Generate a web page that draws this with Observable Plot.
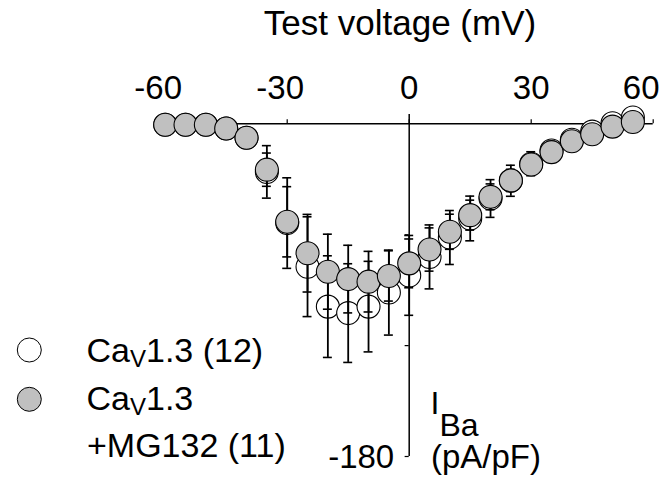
<!DOCTYPE html>
<html><head><meta charset="utf-8">
<script src="https://cdn.jsdelivr.net/npm/d3@7"></script>
<script src="https://cdn.jsdelivr.net/npm/@observablehq/plot@0.6"></script>
<style>
body{margin:0;background:#fff}
svg text{font-family:"Liberation Sans",Arial,sans-serif}
</style>
</head><body><div id="chart"></div>
<script>
// Test voltages (mV)
const voltages = [-60,-55,-50,-45,-40,-35,-30,-25,-20,-15,-10,-5,0,5,10,15,20,25,30,35,40,45,50,55];
// CaV1.3 (12) — open circles, mean and SEM (pA/pF)
const ctrlMean = [-0.5,-0.5,-0.5,-2.5,-7.5,-26,-53.7,-77.3,-98.9,-102.4,-98.9,-91.3,-82,-72,-61.5,-51.2,-40.4,-30.8,-21.6,-14.4,-8.6,-4.2,0.3,3.4];
const ctrlSem  = [0.5,0.5,0.5,1,2,14.2,24.5,27,27.5,26.7,24.5,23,21.6,17.3,14.6,12.1,10.2,8.4,6.5,5,4,3,2,1.5];
// CaV1.3 +MG132 (11) — grey circles
const mgMean = [-0.5,-0.5,-0.5,-2.5,-7.5,-24.8,-53,-70,-80,-84,-85.4,-82.3,-75.5,-68,-58.4,-49.4,-39.5,-30.6,-22,-15.3,-9.4,-5.6,-1.5,1.0];
const mgSem  = [0.5,0.5,0.5,1,2,9,19,21,20.3,18.3,16.4,13.6,13.2,11.7,9.5,8.1,7,6,4.5,3.5,3,2,1.5,1];
// axes
const xTicks = [-60,-30,0,30,60];
const xTickLabels = ["-60","-30","0","30","60"];
const yTicks = [-60,-120,-180];
const yLabelValues = [-180];
const yLabelTexts = ["-180"];

const ctrl = voltages.map((v,i)=>({v, m: ctrlMean[i], s: ctrlSem[i]}));
const mg = voltages.map((v,i)=>({v, m: mgMean[i], s: mgSem[i]}));
const bars = ctrl.concat(mg);
const xLab = xTicks.map((x,i)=>({x, t: xTickLabels[i]}));
const capHalf = 1.1;
const FONT = '"Liberation Sans",Arial,sans-serif';
const TS = 33;

const plot = Plot.plot({
  width: 666, height: 486,
  marginLeft: 164.7, marginRight: 13.3, marginTop: 114.1, marginBottom: 30,
  style: {fontFamily: FONT, background: "white", color: "black", overflow: "visible"},
  x: {domain: [-60, 60], axis: null},
  y: {domain: [-180, 5], axis: null},
  marks: [
    Plot.ruleY([0], {x1: -60, x2: 60, stroke: "black", strokeWidth: 1.5}),
    Plot.ruleX([0], {y1: -180, y2: 5, stroke: "black", strokeWidth: 1.5}),
    Plot.ruleX(xTicks, {x: d => d, y1: 0, y2: 2.2, stroke: "black", strokeWidth: 1.2}),
    Plot.ruleY(yTicks, {y: d => d, x1: 0, x2: -1, stroke: "black", strokeWidth: 1.2}),
    Plot.text(xLab, {filter: d => d.x < 0, x: "x", y: 0, dx: -7, dy: -25, text: "t", lineAnchor: "bottom", textAnchor: "middle", fontSize: TS, fill: "black"}),
    Plot.text(xLab, {filter: d => d.x >= 0 && d.x < 60, x: "x", y: 0, dy: -25, text: "t", lineAnchor: "bottom", textAnchor: "middle", fontSize: TS, fill: "black"}),
    Plot.text(xLab, {filter: d => d.x >= 60, x: "x", y: 0, dx: -12, dy: -25, text: "t", lineAnchor: "bottom", textAnchor: "middle", fontSize: TS, fill: "black"}),
    Plot.text(yLabelValues, {x: 0, y: d => d, dx: -15, dy: 11, text: (d,i) => yLabelTexts[i], lineAnchor: "bottom", textAnchor: "end", fontSize: TS, fill: "black"}),
    Plot.dot(ctrl, {x: "v", y: "m", r: 11.5, fill: "white", stroke: "black", strokeWidth: 1.1}),
    Plot.ruleX(bars, {x: "v", y1: d => d.m - d.s, y2: d => d.m + d.s, stroke: "black", strokeWidth: 1.8}),
    Plot.ruleY(bars, {y: d => d.m - d.s, x1: d => d.v - capHalf, x2: d => d.v + capHalf, stroke: "black", strokeWidth: 1.6}),
    Plot.ruleY(bars, {y: d => d.m + d.s, x1: d => d.v - capHalf, x2: d => d.v + capHalf, stroke: "black", strokeWidth: 1.6}),
    Plot.dot(mg, {x: "v", y: "m", r: 11.5, fill: "#c0c0c0", stroke: "black", strokeWidth: 1.1})
  ]
});
document.getElementById("chart").appendChild(plot);

const svg = d3.select(plot);
const g = svg.append("g").attr("font-family", FONT).attr("fill", "black").attr("text-anchor", "start");
// title
g.append("text").attr("x", 400).attr("y", 35).attr("text-anchor", "middle").attr("font-size", 35).text("Test voltage (mV)");
// legend
g.append("circle").attr("cx", 29.3).attr("cy", 350).attr("r", 12).attr("fill", "white").attr("stroke", "black");
g.append("circle").attr("cx", 29.3).attr("cy", 399.3).attr("r", 12).attr("fill", "#c0c0c0").attr("stroke", "black");
function caV(y, rest) {
  const t = g.append("text").attr("x", 86.5).attr("y", y).attr("font-size", 34).attr("text-anchor", "start");
  t.append("tspan").text("Ca");
  t.append("tspan").attr("font-size", 24).attr("dy", 5).text("V");
  t.append("tspan").attr("dy", -5).text(rest);
}
caV(361.7, "1.3 (12)");
caV(410, "1.3");
g.append("text").attr("x", 87).attr("y", 456.7).attr("font-size", 34).attr("text-anchor", "start").text("+MG132 (11)");
// y axis label
const yl = g.append("text").attr("x", 430.5).attr("y", 414).attr("font-size", 32).attr("text-anchor", "start");
yl.append("tspan").text("I");
yl.append("tspan").attr("dy", 22).text("Ba");
g.append("text").attr("x", 431).attr("y", 468).attr("font-size", 33).attr("text-anchor", "start").text("(pA/pF)");
</script>
</body></html>
